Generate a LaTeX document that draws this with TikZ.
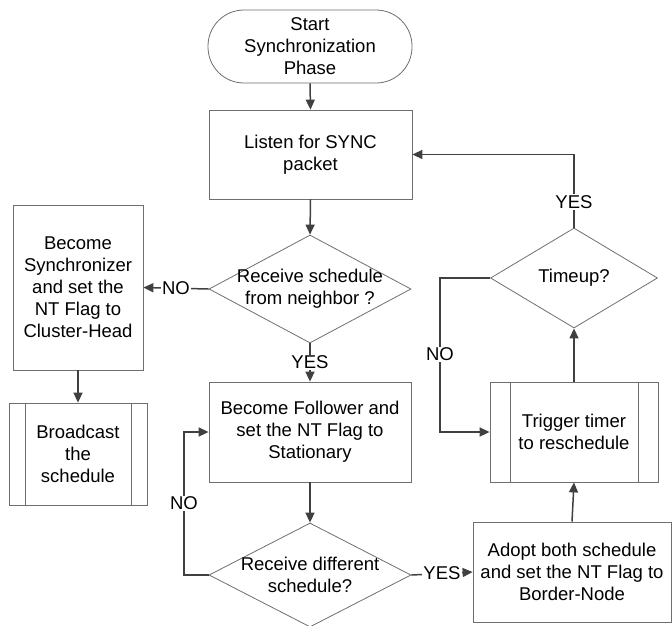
\documentclass[tikz,border=0pt]{standalone}
\usepackage{fontspec}
\setmainfont{Liberation Sans}
\usetikzlibrary{arrows.meta,shapes.geometric}
\definecolor{boxgray}{HTML}{6E6E6E}
\definecolor{linegray}{HTML}{404040}
\definecolor{txt}{HTML}{000000}
\begin{document}
\begin{tikzpicture}[x=1pt,y=-1pt,
  txtfont/.style={font=\fontsize{18.5}{22}\selectfont, text=txt},
  box/.style={draw=boxgray, line width=0.8pt, fill=white, align=center, inner sep=0pt, txtfont},
  dia/.style={draw=boxgray, line width=0.8pt, diamond, inner sep=0pt},
  dtext/.style={align=center, inner sep=0pt, txtfont},
  arr/.style={draw=linegray, line width=1.5pt, -{Triangle[length=10pt,width=9pt]}},
  lbl/.style={fill=white, inner sep=1pt, txtfont}
]
\useasboundingbox (0,0) rectangle (672,625);

% nodes
\node[box, rounded corners=36pt, minimum width=204pt, minimum height=73pt] (start) at (310,46.5) {Start\\Synchronization\\Phase};
\node[box, minimum width=203pt, minimum height=89pt] (listen) at (310.5,154.5) {Listen for SYNC\\packet};
\node[dia, minimum width=202pt, minimum height=108pt] (d1) at (310,289) {};
\node[dtext] (d1t) at (310,289) {Receive schedule\\from neighbor ?};
\node[box, minimum width=130pt, minimum height=165pt] (sync) at (78,287.5) {Become\\Synchronizer\\and set the\\NT Flag to\\Cluster-Head};
\node[box, minimum width=138pt, minimum height=102pt] (bcast) at (78,454) {Broadcast\\the\\schedule};
\draw[draw=boxgray, line width=0.8pt] ([xshift=17pt]bcast.north west) -- ([xshift=17pt]bcast.south west);
\draw[draw=boxgray, line width=0.8pt] ([xshift=-16pt]bcast.north east) -- ([xshift=-16pt]bcast.south east);
\node[box, minimum width=202pt, minimum height=100pt] (follow) at (310,432) {Become Follower and\\set the NT Flag to\\Stationary};
\node[dia, minimum width=202pt, minimum height=104pt] (d2) at (310,575) {};
\node[dtext] (d2t) at (310,575) {Receive different\\schedule?};
\node[box, minimum width=198pt, minimum height=100pt] (adopt) at (572,572) {Adopt both schedule\\and set the NT Flag to\\Border-Node};
\node[box, minimum width=168pt, minimum height=100pt] (trig) at (574,432) {Trigger timer\\to reschedule};
\draw[draw=boxgray, line width=0.8pt] ([xshift=21pt]trig.north west) -- ([xshift=21pt]trig.south west);
\draw[draw=boxgray, line width=0.8pt] ([xshift=-20pt]trig.north east) -- ([xshift=-20pt]trig.south east);
\node[dia, minimum width=167pt, minimum height=100pt] (d3) at (574,278) {};
\node[dtext] (d3t) at (574,278) {Timeup?};

\coordinate (c1) at (184,575);
\coordinate (c2) at (440,278);

% connectors
\draw[arr] (start.south) -- (listen.north);
\draw[arr] (listen.south) -- (d1.north);
\draw[arr] (d1.west) -- node[lbl, pos=0.5]{NO} (sync.east);
\draw[arr] (d1.south) -- node[lbl, pos=0.5]{YES} (follow.north);
\draw[arr] (sync.south) -- (bcast.north);
\draw[arr] (follow.south) -- (d2.north);
\draw[arr] (d2.west) -- (c1) |- node[lbl, pos=0.25]{NO} (follow.west);
\draw[arr] (d2.east) -- node[lbl, pos=0.5]{YES} (adopt.west);
\draw[arr] (adopt.north) -- (trig.south);
\draw[arr] (trig.north) -- (d3.south);
\draw[arr] (d3.north) |- node[lbl, pos=0.175]{YES} (listen.east);
\draw[arr] (d3.west) -- (c2) |- node[lbl, pos=0.247]{NO} (trig.west);
\end{tikzpicture}
\end{document}
